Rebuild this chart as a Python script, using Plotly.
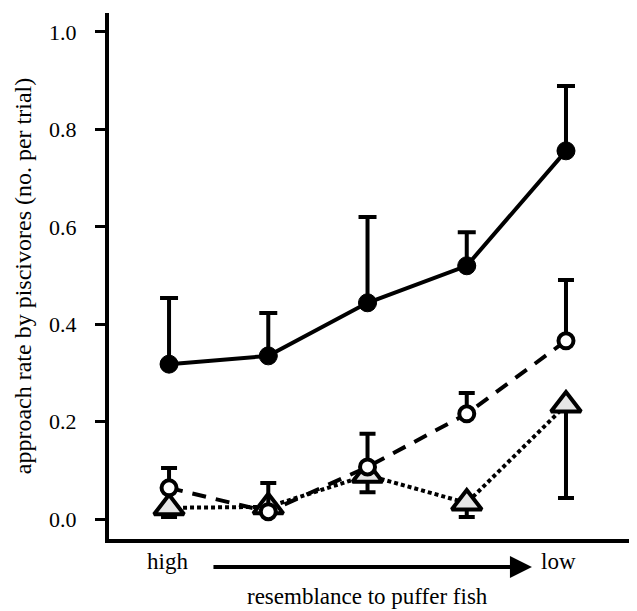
import plotly.graph_objects as go

positions = [1, 2, 3, 4, 5]

filled_vals = [0.318, 0.335, 0.444, 0.520, 0.756]
filled_err_up = [0.136, 0.088, 0.176, 0.069, 0.133]

open_vals = [0.064, 0.015, 0.107, 0.216, 0.366]
open_err_up = [0.041, 0.059, 0.068, 0.043, 0.125]

tri_vals = [0.023, 0.025, 0.090, 0.033, 0.234]
tri_err_down = [0.019, 0.010, 0.035, 0.029, 0.191]

y_ticks = [0.0, 0.2, 0.4, 0.6, 0.8, 1.0]
y_tick_text = ["0.0", "0.2", "0.4", "0.6", "0.8", "1.0"]

FONT = "Liberation Serif"

fig = go.Figure()

fig.add_trace(go.Scatter(
    x=positions, y=tri_vals, mode="lines+markers",
    line=dict(color="black", width=4, dash="4px,3px"),
    marker=dict(symbol="triangle-up", size=26, color="#e6e6e6",
                line=dict(color="black", width=4)),
    error_y=dict(type="data", symmetric=False, array=[0] * 5,
                 arrayminus=tri_err_down, color="black", thickness=4, width=8),
    showlegend=False,
))

fig.add_trace(go.Scatter(
    x=positions, y=open_vals, mode="lines+markers",
    line=dict(color="black", width=4, dash="14px,10px"),
    marker=dict(symbol="circle", size=15, color="white",
                line=dict(color="black", width=4)),
    error_y=dict(type="data", symmetric=False, array=open_err_up,
                 arrayminus=[0] * 5, color="black", thickness=4, width=8),
    showlegend=False,
))

fig.add_trace(go.Scatter(
    x=positions, y=filled_vals, mode="lines+markers",
    line=dict(color="black", width=4),
    marker=dict(symbol="circle", size=18, color="black",
                line=dict(color="black", width=1)),
    error_y=dict(type="data", symmetric=False, array=filled_err_up,
                 arrayminus=[0] * 5, color="black", thickness=4, width=9),
    showlegend=False,
))

fig.update_layout(
    width=629, height=603,
    margin=dict(l=101, r=7, t=5, b=72, autoexpand=False),
    paper_bgcolor="white", plot_bgcolor="white",
    font=dict(family=FONT, color="black", size=22),
    xaxis=dict(range=[0.395, 5.645], showgrid=False, zeroline=False,
               showline=True, linecolor="black", linewidth=4,
               showticklabels=False, ticks="", automargin=False),
    yaxis=dict(range=[-0.041, 1.039], showgrid=False, zeroline=False,
               showline=True, linecolor="black", linewidth=4,
               tickmode="array", tickvals=y_ticks, ticktext=y_tick_text,
               ticks="outside", ticklen=10, tickwidth=3, tickcolor="black",
               ticklabelstandoff=14, automargin=False,
               tickfont=dict(family=FONT, size=22),
               title=dict(text="approach rate by piscivores (no. per trial)",
                          font=dict(family=FONT, size=24), standoff=12)),
    annotations=[
        dict(text="high", x=0.98, xref="x", y=-0.0437, yref="paper",
             yanchor="middle", xanchor="center",
             showarrow=False, font=dict(family=FONT, size=23)),
        dict(text="low", x=4.925, xref="x", y=-0.0437, yref="paper",
             yanchor="middle", xanchor="center",
             showarrow=False, font=dict(family=FONT, size=23)),
        dict(text="", x=4.657, xref="x", y=-0.053, yref="paper",
             ax=-320, axref="pixel", ay=0, ayref="pixel",
             showarrow=True, arrowhead=2, arrowsize=1.1, arrowwidth=4,
             arrowcolor="black"),
        dict(text="resemblance to puffer fish", x=0.497, xref="paper",
             y=-0.110, yref="paper", yanchor="middle", xanchor="center",
             showarrow=False, font=dict(family=FONT, size=23)),
    ],
)

fig.write_html("out.html")
